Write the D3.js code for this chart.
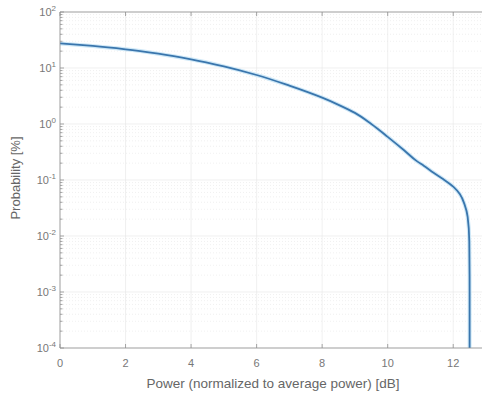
<!DOCTYPE html>
<html><head><meta charset="utf-8">
<script src="https://cdn.jsdelivr.net/npm/d3@7"></script>
<style>body{margin:0;background:#fff}svg{display:block;font-family:"Liberation Sans",Arial,sans-serif}</style>
</head><body><svg id="c" width="482" height="396"></svg>
<script>
const powerDb = [0, 1, 2, 3, 4, 5, 6, 7, 8, 8.5, 9, 9.5, 10, 10.5, 10.9, 11.1, 11.4, 11.7, 12.0, 12.2, 12.35, 12.44, 12.49, 12.5, 12.5];
const probPct = [27.5, 24.8, 21.6, 18.0, 14.3, 10.7, 7.5, 4.84, 2.95, 2.2, 1.58, 1.0, 0.59, 0.34, 0.215, 0.18, 0.135, 0.103, 0.076, 0.056, 0.036, 0.022, 0.008, 0.001, 0.00001];
const xTicks = [0, 2, 4, 6, 8, 10, 12];
const yExps = [2, 1, 0, -1, -2, -3, -4];

const svg = d3.select("#c");
const L = 60, T = 12, B = 348;
const x = d3.scaleLinear().domain([0, 13]).range([L, 486]);
const y = d3.scaleLog().domain([1e-4, 1e2]).range([B, T]);
const R = x(13);

const g = svg.append("g");
const minors = [];
for (let e = -4; e < 2; e++) for (let m = 2; m <= 9; m++) minors.push(m * Math.pow(10, e));
g.selectAll(".mg").data(minors).join("line")
  .attr("x1", L).attr("x2", R).attr("y1", d => y(d)).attr("y2", d => y(d))
  .attr("stroke", "#e6e6e6").attr("stroke-width", 0.6).attr("stroke-dasharray", "1,2");
g.selectAll(".gy").data(yExps).join("line")
  .attr("x1", L).attr("x2", R).attr("y1", d => y(Math.pow(10, d))).attr("y2", d => y(Math.pow(10, d)))
  .attr("stroke", "#e6e6e6").attr("stroke-width", 0.6);
g.selectAll(".gx").data(xTicks).join("line")
  .attr("y1", T).attr("y2", B).attr("x1", d => x(d)).attr("x2", d => x(d))
  .attr("stroke", "#e6e6e6").attr("stroke-width", 0.6);

svg.append("clipPath").attr("id", "cp").append("rect").attr("x", L).attr("y", T).attr("width", R - L).attr("height", B - T);
const line = d3.line().x((d, i) => x(powerDb[i])).y((d, i) => y(probPct[i])).curve(d3.curveMonotoneY);
svg.append("path").datum(probPct).attr("d", line).attr("clip-path", "url(#cp)")
  .attr("fill", "none").attr("stroke", "#cfe8f7").attr("stroke-width", 4);
svg.append("path").datum(probPct).attr("d", line).attr("clip-path", "url(#cp)")
  .attr("fill", "none").attr("stroke", "#3a76ad").attr("stroke-width", 1.8);

const ax = svg.append("g").attr("stroke", "#8f8f8f").attr("stroke-width", 0.8).attr("fill", "none");
ax.append("line").attr("x1", L).attr("x2", R).attr("y1", B).attr("y2", B);
ax.append("line").attr("x1", L).attr("x2", R).attr("y1", T).attr("y2", T);
ax.append("line").attr("x1", L).attr("x2", L).attr("y1", T).attr("y2", B);
xTicks.forEach(t => {
  ax.append("line").attr("x1", x(t)).attr("x2", x(t)).attr("y1", B).attr("y2", B - 4);
  ax.append("line").attr("x1", x(t)).attr("x2", x(t)).attr("y1", T).attr("y2", T + 4);
});
yExps.forEach(e => ax.append("line").attr("x1", L).attr("x2", L + 4).attr("y1", y(Math.pow(10, e))).attr("y2", y(Math.pow(10, e))));
minors.forEach(v => ax.append("line").attr("x1", L).attr("x2", L + 2.5).attr("y1", y(v)).attr("y2", y(v)));

const lab = svg.append("g").attr("fill", "#777").attr("font-size", 11);
xTicks.forEach(t => lab.append("text").attr("x", x(t)).attr("y", B + 19).attr("text-anchor", "middle").text(t));
yExps.forEach(e => {
  const tx = lab.append("text").attr("x", L - 4).attr("y", y(Math.pow(10, e)) + 4).attr("text-anchor", "end");
  tx.append("tspan").text("10");
  tx.append("tspan").attr("dy", -5).attr("font-size", 8).text(e);
});
svg.append("text").attr("x", 273).attr("y", 388).attr("text-anchor", "middle").attr("font-size", 13.5).attr("fill", "#666").text("Power (normalized to average power) [dB]");
svg.append("text").attr("transform", "translate(20,178) rotate(-90)").attr("text-anchor", "middle").attr("font-size", 13).attr("fill", "#666").text("Probability [%]");
</script></body></html>
